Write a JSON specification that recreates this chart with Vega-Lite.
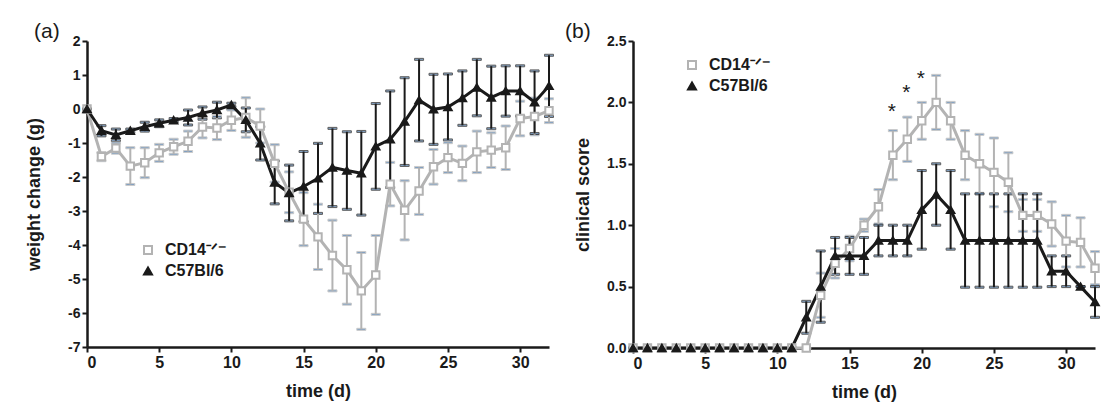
{
  "$schema": "https://vega.github.io/schema/vega-lite/v6.json",
  "background": "white",
  "padding": {"left": 25, "top": 21, "right": 5, "bottom": 5},
  "spacing": 8,
  "config": {
    "font": "Liberation Sans",
    "view": {"stroke": null},
    "axis": {
      "grid": false,
      "domainColor": "#1a1a1a",
      "domainWidth": 2.5,
      "tickColor": "#1a1a1a",
      "tickWidth": 2,
      "tickSize": 5,
      "labelFont": "Liberation Sans",
      "labelFontWeight": "bold",
      "labelFontSize": 14,
      "labelColor": "#1a1a1a",
      "labelPadding": 2,
      "titleFont": "Liberation Sans",
      "titleFontWeight": "bold",
      "titleFontSize": 18,
      "titleColor": "#1a1a1a"
    },
    "legend": {
      "labelFont": "Liberation Sans",
      "labelFontWeight": "bold",
      "labelFontSize": 16,
      "labelColor": "#1a1a1a",
      "labelOffset": 9,
      "symbolStrokeWidth": 2,
      "symbolSize": 64,
      "symbolOpacity": 1,
      "rowPadding": 5,
      "padding": 0
    },
    "title": {"font": "Liberation Sans", "fontSize": 21, "fontWeight": "normal", "color": "#1a1a1a", "anchor": "start", "frame": "group"}
  },
  "datasets": {
    "a": [
      {"g": "CD14-/-", "d": 0, "m": 0, "e": 0},
      {"g": "CD14-/-", "d": 1, "m": -1.4, "e": 0.12},
      {"g": "CD14-/-", "d": 2, "m": -1.15, "e": 0.15},
      {"g": "CD14-/-", "d": 3, "m": -1.68, "e": 0.54},
      {"g": "CD14-/-", "d": 4, "m": -1.58, "e": 0.44},
      {"g": "CD14-/-", "d": 5, "m": -1.29, "e": 0.25},
      {"g": "CD14-/-", "d": 6, "m": -1.11, "e": 0.22},
      {"g": "CD14-/-", "d": 7, "m": -0.95, "e": 0.3},
      {"g": "CD14-/-", "d": 8, "m": -0.53, "e": 0.32},
      {"g": "CD14-/-", "d": 9, "m": -0.56, "e": 0.34},
      {"g": "CD14-/-", "d": 10, "m": -0.33, "e": 0.3},
      {"g": "CD14-/-", "d": 11, "m": -0.25, "e": 0.58},
      {"g": "CD14-/-", "d": 12, "m": -0.5, "e": 0.5},
      {"g": "CD14-/-", "d": 13, "m": -1.6, "e": 0.55},
      {"g": "CD14-/-", "d": 14, "m": -2.45, "e": 0.6},
      {"g": "CD14-/-", "d": 15, "m": -3.24, "e": 0.78},
      {"g": "CD14-/-", "d": 16, "m": -3.76, "e": 0.96},
      {"g": "CD14-/-", "d": 17, "m": -4.31, "e": 1.04},
      {"g": "CD14-/-", "d": 18, "m": -4.73, "e": 1.01},
      {"g": "CD14-/-", "d": 19, "m": -5.35, "e": 1.13},
      {"g": "CD14-/-", "d": 20, "m": -4.88, "e": 1.16},
      {"g": "CD14-/-", "d": 21, "m": -2.21, "e": 0.64},
      {"g": "CD14-/-", "d": 22, "m": -2.98, "e": 0.87},
      {"g": "CD14-/-", "d": 23, "m": -2.41, "e": 0.69},
      {"g": "CD14-/-", "d": 24, "m": -1.7, "e": 0.51},
      {"g": "CD14-/-", "d": 25, "m": -1.43, "e": 0.44},
      {"g": "CD14-/-", "d": 26, "m": -1.6, "e": 0.51},
      {"g": "CD14-/-", "d": 27, "m": -1.26, "e": 0.61},
      {"g": "CD14-/-", "d": 28, "m": -1.21, "e": 0.51},
      {"g": "CD14-/-", "d": 29, "m": -1.14, "e": 0.64},
      {"g": "CD14-/-", "d": 30, "m": -0.28, "e": 0.51},
      {"g": "CD14-/-", "d": 31, "m": -0.22, "e": 0.54},
      {"g": "CD14-/-", "d": 32, "m": -0.05, "e": 0.35},
      {"g": "C57Bl/6", "d": 0, "m": 0, "e": 0},
      {"g": "C57Bl/6", "d": 1, "m": -0.64, "e": 0.15},
      {"g": "C57Bl/6", "d": 2, "m": -0.76, "e": 0.17},
      {"g": "C57Bl/6", "d": 3, "m": -0.64, "e": 0.05},
      {"g": "C57Bl/6", "d": 4, "m": -0.52, "e": 0.13},
      {"g": "C57Bl/6", "d": 5, "m": -0.42, "e": 0.1},
      {"g": "C57Bl/6", "d": 6, "m": -0.33, "e": 0.05},
      {"g": "C57Bl/6", "d": 7, "m": -0.25, "e": 0.22},
      {"g": "C57Bl/6", "d": 8, "m": -0.12, "e": 0.18},
      {"g": "C57Bl/6", "d": 9, "m": -0.03, "e": 0.23},
      {"g": "C57Bl/6", "d": 10, "m": 0.12, "e": 0.05},
      {"g": "C57Bl/6", "d": 11, "m": -0.32, "e": 0.35},
      {"g": "C57Bl/6", "d": 12, "m": -1.01, "e": 0.49},
      {"g": "C57Bl/6", "d": 13, "m": -2.16, "e": 0.63},
      {"g": "C57Bl/6", "d": 14, "m": -2.47, "e": 0.82},
      {"g": "C57Bl/6", "d": 15, "m": -2.28, "e": 1.03},
      {"g": "C57Bl/6", "d": 16, "m": -2.04, "e": 1.03},
      {"g": "C57Bl/6", "d": 17, "m": -1.72, "e": 1.15},
      {"g": "C57Bl/6", "d": 18, "m": -1.81, "e": 1.14},
      {"g": "C57Bl/6", "d": 19, "m": -1.89, "e": 1.23},
      {"g": "C57Bl/6", "d": 20, "m": -1.1, "e": 1.26},
      {"g": "C57Bl/6", "d": 21, "m": -0.89, "e": 1.42},
      {"g": "C57Bl/6", "d": 22, "m": -0.37, "e": 1.29},
      {"g": "C57Bl/6", "d": 23, "m": 0.26, "e": 1.2},
      {"g": "C57Bl/6", "d": 24, "m": -0.01, "e": 1.03},
      {"g": "C57Bl/6", "d": 25, "m": 0.06, "e": 0.97},
      {"g": "C57Bl/6", "d": 26, "m": 0.32, "e": 0.8},
      {"g": "C57Bl/6", "d": 27, "m": 0.63, "e": 0.83},
      {"g": "C57Bl/6", "d": 28, "m": 0.34, "e": 0.92},
      {"g": "C57Bl/6", "d": 29, "m": 0.53, "e": 0.74},
      {"g": "C57Bl/6", "d": 30, "m": 0.53, "e": 0.74},
      {"g": "C57Bl/6", "d": 31, "m": 0.2, "e": 0.92},
      {"g": "C57Bl/6", "d": 32, "m": 0.68, "e": 0.9}
    ],
    "b": [
      {"g": "CD14-/-", "d": 0, "m": 0, "e": 0},
      {"g": "CD14-/-", "d": 1, "m": 0, "e": 0},
      {"g": "CD14-/-", "d": 2, "m": 0, "e": 0},
      {"g": "CD14-/-", "d": 3, "m": 0, "e": 0},
      {"g": "CD14-/-", "d": 4, "m": 0, "e": 0},
      {"g": "CD14-/-", "d": 5, "m": 0, "e": 0},
      {"g": "CD14-/-", "d": 6, "m": 0, "e": 0},
      {"g": "CD14-/-", "d": 7, "m": 0, "e": 0},
      {"g": "CD14-/-", "d": 8, "m": 0, "e": 0},
      {"g": "CD14-/-", "d": 9, "m": 0, "e": 0},
      {"g": "CD14-/-", "d": 10, "m": 0, "e": 0},
      {"g": "CD14-/-", "d": 11, "m": 0, "e": 0},
      {"g": "CD14-/-", "d": 12, "m": 0, "e": 0},
      {"g": "CD14-/-", "d": 13, "m": 0.43, "e": 0.18},
      {"g": "CD14-/-", "d": 14, "m": 0.69, "e": 0.12},
      {"g": "CD14-/-", "d": 15, "m": 0.81, "e": 0.1},
      {"g": "CD14-/-", "d": 16, "m": 1.0, "e": 0.05},
      {"g": "CD14-/-", "d": 17, "m": 1.15, "e": 0.14},
      {"g": "CD14-/-", "d": 18, "m": 1.57, "e": 0.2},
      {"g": "CD14-/-", "d": 19, "m": 1.7, "e": 0.18},
      {"g": "CD14-/-", "d": 20, "m": 1.85, "e": 0.15},
      {"g": "CD14-/-", "d": 21, "m": 2.0, "e": 0.22},
      {"g": "CD14-/-", "d": 22, "m": 1.85, "e": 0.15},
      {"g": "CD14-/-", "d": 23, "m": 1.57, "e": 0.2},
      {"g": "CD14-/-", "d": 24, "m": 1.5, "e": 0.24},
      {"g": "CD14-/-", "d": 25, "m": 1.43, "e": 0.28},
      {"g": "CD14-/-", "d": 26, "m": 1.35, "e": 0.24},
      {"g": "CD14-/-", "d": 27, "m": 1.08, "e": 0.13},
      {"g": "CD14-/-", "d": 28, "m": 1.08, "e": 0.13},
      {"g": "CD14-/-", "d": 29, "m": 1.01, "e": 0.18},
      {"g": "CD14-/-", "d": 30, "m": 0.87, "e": 0.21},
      {"g": "CD14-/-", "d": 31, "m": 0.86, "e": 0.2},
      {"g": "CD14-/-", "d": 32, "m": 0.65, "e": 0.135},
      {"g": "C57Bl/6", "d": 0, "m": 0, "e": 0},
      {"g": "C57Bl/6", "d": 1, "m": 0, "e": 0},
      {"g": "C57Bl/6", "d": 2, "m": 0, "e": 0},
      {"g": "C57Bl/6", "d": 3, "m": 0, "e": 0},
      {"g": "C57Bl/6", "d": 4, "m": 0, "e": 0},
      {"g": "C57Bl/6", "d": 5, "m": 0, "e": 0},
      {"g": "C57Bl/6", "d": 6, "m": 0, "e": 0},
      {"g": "C57Bl/6", "d": 7, "m": 0, "e": 0},
      {"g": "C57Bl/6", "d": 8, "m": 0, "e": 0},
      {"g": "C57Bl/6", "d": 9, "m": 0, "e": 0},
      {"g": "C57Bl/6", "d": 10, "m": 0, "e": 0},
      {"g": "C57Bl/6", "d": 11, "m": 0, "e": 0},
      {"g": "C57Bl/6", "d": 12, "m": 0.25, "e": 0.13},
      {"g": "C57Bl/6", "d": 13, "m": 0.5, "e": 0.29},
      {"g": "C57Bl/6", "d": 14, "m": 0.75, "e": 0.15},
      {"g": "C57Bl/6", "d": 15, "m": 0.75, "e": 0.15},
      {"g": "C57Bl/6", "d": 16, "m": 0.75, "e": 0.15},
      {"g": "C57Bl/6", "d": 17, "m": 0.875, "e": 0.125},
      {"g": "C57Bl/6", "d": 18, "m": 0.875, "e": 0.125},
      {"g": "C57Bl/6", "d": 19, "m": 0.875, "e": 0.125},
      {"g": "C57Bl/6", "d": 20, "m": 1.125, "e": 0.32},
      {"g": "C57Bl/6", "d": 21, "m": 1.25, "e": 0.25},
      {"g": "C57Bl/6", "d": 22, "m": 1.125, "e": 0.32},
      {"g": "C57Bl/6", "d": 23, "m": 0.875, "e": 0.38},
      {"g": "C57Bl/6", "d": 24, "m": 0.875, "e": 0.38},
      {"g": "C57Bl/6", "d": 25, "m": 0.875, "e": 0.38},
      {"g": "C57Bl/6", "d": 26, "m": 0.875, "e": 0.38},
      {"g": "C57Bl/6", "d": 27, "m": 0.875, "e": 0.38},
      {"g": "C57Bl/6", "d": 28, "m": 0.875, "e": 0.38},
      {"g": "C57Bl/6", "d": 29, "m": 0.625, "e": 0.125},
      {"g": "C57Bl/6", "d": 30, "m": 0.625, "e": 0.125},
      {"g": "C57Bl/6", "d": 31, "m": 0.5, "e": 0},
      {"g": "C57Bl/6", "d": 32, "m": 0.375, "e": 0.125}
    ],
    "stars": [
      {"d": 18, "m": 1.94, "t": "*"},
      {"d": 19, "m": 2.09, "t": "*"},
      {"d": 20, "m": 2.21, "t": "*"}
    ]
  },
  "resolve": {"scale": {"color": "independent", "stroke": "independent", "fill": "independent", "shape": "independent"}},
  "hconcat": [
    {
      "width": 462,
      "height": 306,
      "title": {"text": "(a)", "dx": -53, "offset": -8},
      "data": {"name": "a"},
      "encoding": {
        "x": {"field": "d", "type": "quantitative", "scale": {"domain": [0, 32], "nice": false, "zero": false},
              "axis": {"values": [0, 5, 10, 15, 20, 25, 30], "title": "time (d)", "titlePadding": 12, "labelFontSize": 16}},
        "y": {"field": "m", "type": "quantitative", "scale": {"domain": [-7, 2], "nice": false, "zero": false},
              "axis": {"values": [-7, -6, -5, -4, -3, -2, -1, 0, 1, 2], "title": "weight change (g)", "titlePadding": 24, "labelExpr": "replace(datum.label, '−', '-')"}}
      },
      "layer": [
        {
          "mark": {"type": "errorbar", "ticks": {"size": 9, "thickness": 2}, "rule": {"strokeWidth": 2}},
          "encoding": {
            "yError": {"field": "e"},
            "stroke": {"field": "g", "type": "nominal", "scale": {"domain": ["CD14-/-", "C57Bl/6"], "range": ["#b3b3b3", "#1a1a1a"]},
                      "legend": {"title": null, "orient": "none", "legendX": 53, "legendY": 201, "labelExpr": "datum.label == 'CD14-/-' ? 'CD14⁻ᐟ⁻' : datum.label"}}
          }
        },
        {
          "mark": {"type": "line", "strokeWidth": 3},
          "encoding": {
            "stroke": {"field": "g", "type": "nominal",
                      "legend": {"title": null, "orient": "none", "legendX": 53, "legendY": 201, "labelExpr": "datum.label == 'CD14-/-' ? 'CD14⁻ᐟ⁻' : datum.label"}}
          }
        },
        {
          "mark": {"type": "point", "filled": false, "strokeWidth": 2, "size": 55, "opacity": 1},
          "encoding": {
            "shape": {"field": "g", "type": "nominal", "scale": {"domain": ["CD14-/-", "C57Bl/6"], "range": ["square", "triangle-up"]},
                      "legend": {"title": null, "orient": "none", "legendX": 53, "legendY": 201, "labelExpr": "datum.label == 'CD14-/-' ? 'CD14⁻ᐟ⁻' : datum.label"}},
            "fill": {"field": "g", "type": "nominal", "scale": {"domain": ["CD14-/-", "C57Bl/6"], "range": ["white", "#1a1a1a"]},
                      "legend": {"title": null, "orient": "none", "legendX": 53, "legendY": 201, "labelExpr": "datum.label == 'CD14-/-' ? 'CD14⁻ᐟ⁻' : datum.label"}},
            "stroke": {"field": "g", "type": "nominal",
                      "legend": {"title": null, "orient": "none", "legendX": 53, "legendY": 201, "labelExpr": "datum.label == 'CD14-/-' ? 'CD14⁻ᐟ⁻' : datum.label"}}
          }
        }
      ]
    },
    {
      "width": 462,
      "height": 307,
      "title": {"text": "(b)", "dx": -68, "offset": -8},
      "encoding": {
        "x": {"field": "d", "type": "quantitative", "scale": {"domain": [0, 32], "nice": false, "zero": false},
              "axis": {"values": [0, 5, 10, 15, 20, 25, 30], "title": "time (d)", "titlePadding": 12, "labelFontSize": 16}},
        "y": {"field": "m", "type": "quantitative", "scale": {"domain": [0, 2.5], "nice": false},
              "axis": {"values": [0, 0.5, 1, 1.5, 2, 2.5], "format": ".1f", "title": "clinical score", "titlePadding": 14}}
      },
      "layer": [
        {
          "data": {"name": "b"},
          "mark": {"type": "errorbar", "ticks": {"size": 9, "thickness": 2}, "rule": {"strokeWidth": 2}},
          "encoding": {
            "yError": {"field": "e"},
            "stroke": {"field": "g", "type": "nominal", "scale": {"domain": ["CD14-/-", "C57Bl/6"], "range": ["#b3b3b3", "#1a1a1a"]},
                      "legend": {"title": null, "orient": "none", "legendX": 51, "legendY": 16, "labelExpr": "datum.label == 'CD14-/-' ? 'CD14⁻ᐟ⁻' : datum.label"}}
          }
        },
        {
          "data": {"name": "b"},
          "mark": {"type": "line", "strokeWidth": 3},
          "encoding": {
            "stroke": {"field": "g", "type": "nominal",
                      "legend": {"title": null, "orient": "none", "legendX": 51, "legendY": 16, "labelExpr": "datum.label == 'CD14-/-' ? 'CD14⁻ᐟ⁻' : datum.label"}}
          }
        },
        {
          "data": {"name": "b"},
          "mark": {"type": "point", "filled": false, "strokeWidth": 2, "size": 55, "opacity": 1},
          "encoding": {
            "shape": {"field": "g", "type": "nominal", "scale": {"domain": ["CD14-/-", "C57Bl/6"], "range": ["square", "triangle-up"]},
                      "legend": {"title": null, "orient": "none", "legendX": 51, "legendY": 16, "labelExpr": "datum.label == 'CD14-/-' ? 'CD14⁻ᐟ⁻' : datum.label"}},
            "fill": {"field": "g", "type": "nominal", "scale": {"domain": ["CD14-/-", "C57Bl/6"], "range": ["white", "#1a1a1a"]},
                      "legend": {"title": null, "orient": "none", "legendX": 51, "legendY": 16, "labelExpr": "datum.label == 'CD14-/-' ? 'CD14⁻ᐟ⁻' : datum.label"}},
            "stroke": {"field": "g", "type": "nominal",
                      "legend": {"title": null, "orient": "none", "legendX": 51, "legendY": 16, "labelExpr": "datum.label == 'CD14-/-' ? 'CD14⁻ᐟ⁻' : datum.label"}}
          }
        },
        {
          "data": {"name": "stars"},
          "mark": {"type": "text", "fontSize": 21, "font": "Liberation Sans", "baseline": "alphabetic", "dy": 8, "dx": -1, "color": "#1a1a1a"},
          "encoding": {"text": {"field": "t"}}
        }
      ]
    }
  ]
}
